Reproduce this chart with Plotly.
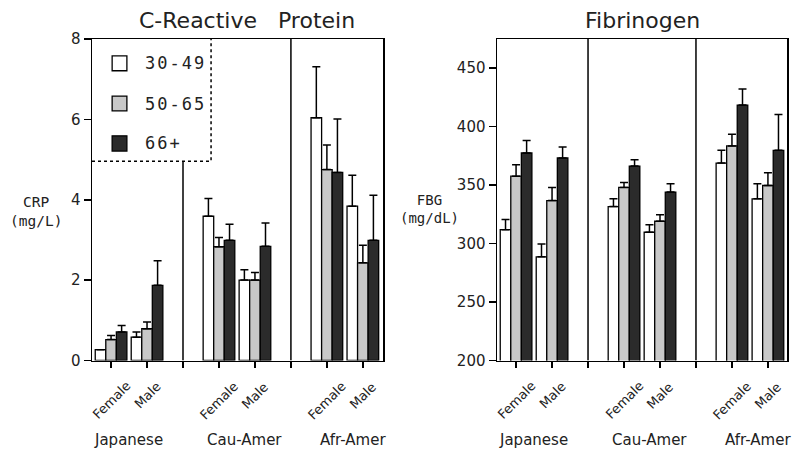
import plotly.graph_objects as go

# ---------------- data ----------------
groups = ["Japanese", "Cau-Amer", "Afr-Amer"]
sexes = ["Female", "Male"]
age_groups = ["30-49", "50-65", "66+"]
categories = [f"{g} {s}" for g in groups for s in sexes]

crp_30_49 = [0.27, 0.58, 3.59, 2.00, 6.04, 3.84]
crp_50_65 = [0.52, 0.79, 2.83, 2.00, 4.75, 2.43]
crp_66 = [0.71, 1.87, 2.99, 2.84, 4.68, 2.99]
crp_err_30_49 = [0.0, 0.13, 0.44, 0.26, 1.27, 0.77]
crp_err_50_65 = [0.10, 0.17, 0.23, 0.19, 0.61, 0.44]
crp_err_66 = [0.16, 0.61, 0.40, 0.58, 1.33, 1.12]

fbg_30_49 = [311.9, 288.7, 331.7, 309.7, 368.9, 338.3]
fbg_50_65 = [357.7, 336.8, 348.0, 319.1, 383.5, 349.7]
fbg_66 = [377.5, 373.2, 366.3, 344.1, 418.5, 379.8]
fbg_err_30_49 = [8.6, 10.9, 6.6, 6.5, 10.9, 12.9]
fbg_err_50_65 = [9.8, 11.2, 4.3, 5.5, 10.1, 11.0]
fbg_err_66 = [10.6, 9.5, 5.5, 7.1, 13.7, 30.7]

crp_ticks = [0, 2, 4, 6, 8]
fbg_ticks = [200, 250, 300, 350, 400, 450]

# ---------------- styling ----------------
fills = ["#ffffff", "#c8c8c8", "#2b2b2b"]
FONT = "DejaVu Sans"
MONO = "DejaVu Sans Mono"
TXT = "#222222"

# category order with spacer slots between ethnic groups
cat_order = [categories[0], categories[1], "sp1",
             categories[2], categories[3], "sp2",
             categories[4], categories[5]]

fig = go.Figure()

series_crp = [(crp_30_49, crp_err_30_49), (crp_50_65, crp_err_50_65), (crp_66, crp_err_66)]
series_fbg = [(fbg_30_49, fbg_err_30_49), (fbg_50_65, fbg_err_50_65), (fbg_66, fbg_err_66)]

for i, (vals, errs) in enumerate(series_crp):
    fig.add_trace(go.Bar(
        x=categories, y=vals, name=age_groups[i], offsetgroup=str(i),
        marker=dict(color=fills[i], line=dict(color="black", width=1.3)),
        error_y=dict(type="data", symmetric=False, array=errs,
                     arrayminus=[0] * len(errs), color="black",
                     thickness=1.5, width=4),
        xaxis="x", yaxis="y", showlegend=False))

for i, (vals, errs) in enumerate(series_fbg):
    fig.add_trace(go.Bar(
        x=categories, y=vals, name=age_groups[i], offsetgroup=str(i),
        marker=dict(color=fills[i], line=dict(color="black", width=1.3)),
        error_y=dict(type="data", symmetric=False, array=errs,
                     arrayminus=[0] * len(errs), color="black",
                     thickness=1.5, width=4),
        xaxis="x2", yaxis="y2", showlegend=False))

ydom = [1 - 360.5 / 461, 1 - 39 / 461]
xcommon = dict(type="category", categoryorder="array", categoryarray=cat_order,
               tickvals=cat_order, ticktext=[""] * len(cat_order),
               ticks="outside", ticklen=6, tickwidth=1.5, tickcolor="black",
               showline=True, linecolor="black", linewidth=1.5, mirror=True,
               showgrid=False, zeroline=False, fixedrange=True, automargin=False)
ycommon = dict(ticks="outside", ticklen=7, tickwidth=1.5, tickcolor="black",
               showline=True, linecolor="black", linewidth=1.5, mirror=True,
               showgrid=False, zeroline=False, automargin=False, fixedrange=True,
               tickfont=dict(family=FONT, size=15, color=TXT))

fig.update_layout(
    template="none",
    width=800, height=461, autosize=False,
    margin=dict(l=0, r=0, t=0, b=0, pad=0, autoexpand=False),
    paper_bgcolor="white", plot_bgcolor="white",
    barmode="group", bargap=0.12, bargroupgap=0,
    xaxis=dict(domain=[92 / 800, 383 / 800], range=[-0.53, 7.56], anchor="y", **xcommon),
    xaxis2=dict(domain=[497 / 800, 787 / 800], range=[-0.53, 7.53], anchor="y2", **xcommon),
    yaxis=dict(domain=ydom, range=[0, 8], tickvals=crp_ticks, anchor="x", **ycommon),
    yaxis2=dict(domain=ydom, range=[200, 475], tickvals=fbg_ticks, anchor="x2", **ycommon),
)

shapes = []
# group separators
shapes.append(dict(type="line", xref="x", yref="y", x0=2, x1=2, y0=0, y1=4.96,
                   line=dict(color="black", width=1.5)))
shapes.append(dict(type="line", xref="x", yref="y", x0=5, x1=5, y0=0, y1=8,
                   line=dict(color="black", width=1.5)))
for xs in (2, 5):
    shapes.append(dict(type="line", xref="x2", yref="y2", x0=xs, x1=xs, y0=200, y1=475,
                       line=dict(color="black", width=1.5)))
# dotted legend box
shapes.append(dict(type="path", xref="x", yref="y",
                   path="M -0.53,4.96 L 2.78,4.96 L 2.78,8",
                   line=dict(color="black", width=1.5, dash="dot")))

annotations = []
# legend swatches and labels
leg_y = [(7.58, 7.21), (6.58, 6.21), (5.59, 5.21)]
for i, (ytop, ybot) in enumerate(leg_y):
    shapes.append(dict(type="rect", xref="x", yref="y", x0=0.03, x1=0.44, y0=ybot, y1=ytop,
                       fillcolor=fills[i], line=dict(color="black", width=1.3)))
    annotations.append(dict(xref="x", yref="y", x=0.88, y=(ytop + ybot) / 2,
                            text=f'<span style="letter-spacing:2px">{age_groups[i]}</span>',
                            showarrow=False, xanchor="left", yanchor="middle",
                            font=dict(family=MONO, size=17, color=TXT)))

# rotated sex labels and group labels
label_y = {"Female": 400, "Male": 395}
group_pos = [0.48, 3.7, 6.72]
for xa, ya in (("x", "y"), ("x2", "y2")):
    for idx, c in enumerate(categories):
        s = sexes[idx % 2]
        annotations.append(dict(xref=xa, yref="paper", x=c, y=1 - label_y[s] / 461,
                                text=s, textangle=-45, showarrow=False,
                                xanchor="center", yanchor="middle",
                                font=dict(family=FONT, size=13, color=TXT)))
    for g, gp in zip(groups, group_pos):
        annotations.append(dict(xref=xa, yref="paper", x=gp, y=1 - 440 / 461,
                                text=g, showarrow=False, xanchor="center",
                                yanchor="middle",
                                font=dict(family=FONT, size=15, color=TXT)))

# titles
annotations.append(dict(xref="paper", yref="paper", x=247 / 800, y=1 - 20 / 461,
                        text="C-Reactive&nbsp;&nbsp;&nbsp;Protein", showarrow=False,
                        xanchor="center", yanchor="middle",
                        font=dict(family=FONT, size=22, color=TXT)))
annotations.append(dict(xref="paper", yref="paper", x=642 / 800, y=1 - 20 / 461,
                        text="Fibrinogen", showarrow=False,
                        xanchor="center", yanchor="middle",
                        font=dict(family=FONT, size=22, color=TXT)))
# y axis labels
annotations.append(dict(xref="paper", yref="paper", x=36 / 800, y=1 - 211 / 461,
                        text="CRP<br>(mg/L)", showarrow=False, align="center",
                        xanchor="center", yanchor="middle",
                        font=dict(family=MONO, size=14.5, color=TXT)))
annotations.append(dict(xref="paper", yref="paper", x=429 / 800, y=1 - 209 / 461,
                        text="FBG<br>(mg/dL)", showarrow=False, align="center",
                        xanchor="center", yanchor="middle",
                        font=dict(family=MONO, size=14, color=TXT)))

fig.update_layout(shapes=shapes, annotations=annotations)
fig.write_html("out.html",
               config={"displayModeBar": False, "staticPlot": True},
               post_script="document.body.style.margin='0';"
                           "document.body.style.overflow='hidden';")
